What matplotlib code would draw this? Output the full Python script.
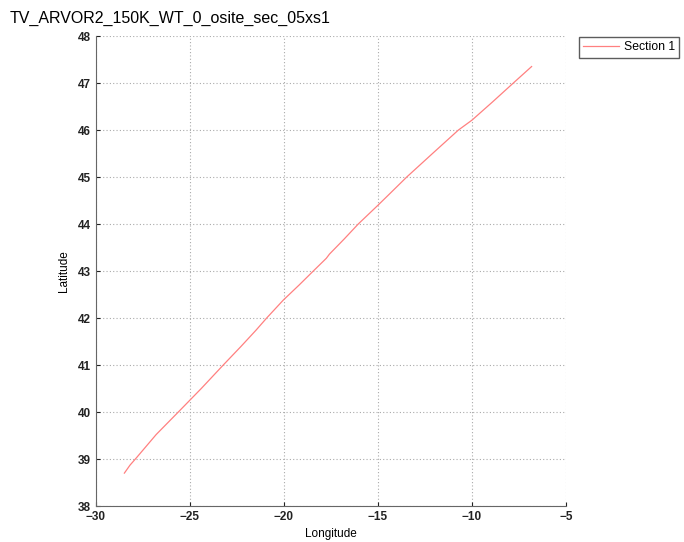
import matplotlib
matplotlib.use("Agg")
import matplotlib.pyplot as plt

# Track (longitude, latitude)
lon = [-28.49, -28.19, -27.84, -26.8, -25.62, -24.4, -23.23, -22.3, -21.49,
       -20.92, -20.04, -19.2, -18.44, -17.75, -17.58, -16.8, -16.05, -15.0,
       -14.36, -13.47, -12.1, -10.72, -10.0, -8.9, -7.80, -6.83]
lat = [38.70, 38.87, 39.03, 39.52, 40.0, 40.5, 41.0, 41.39, 41.74,
       42.0, 42.38, 42.7, 43.0, 43.27, 43.36, 43.68, 44.0, 44.40,
       44.65, 45.0, 45.5, 46.0, 46.21, 46.6, 47.0, 47.35]

series_label = "Section 1"
title = "TV_ARVOR2_150K_WT_0_osite_sec_05xs1"

plt.rcParams["font.family"] = ["Liberation Sans", "DejaVu Sans"]

fig = plt.figure(figsize=(6.84, 5.42), dpi=100)
ax = fig.add_axes([96 / 684, 36 / 542, 470 / 684, 470 / 542])

line, = ax.plot(lon, lat, color="#ff8080", linewidth=0.9, label=series_label)

ax.set_xlim(-30, -5)
ax.set_ylim(38, 48)
ax.set_xticks([-30, -25, -20, -15, -10, -5])
ax.set_xticklabels(["\u221230", "\u221225", "\u221220", "\u221215", "\u221210", "\u22125"])
ax.set_yticks(range(38, 49))
ax.grid(True, linestyle=(0, (1, 2)), color="#aaaaaa", linewidth=0.8)

for s in ["top", "right"]:
    ax.spines[s].set_visible(False)
for s in ["left", "bottom"]:
    ax.spines[s].set_color("#666666")
ax.tick_params(direction="in", length=3, labelsize=8.5, colors="#222222")
for t in ax.get_xticklabels() + ax.get_yticklabels():
    t.set_fontweight("bold")

ax.set_xlabel("Longitude", fontsize=8.5, labelpad=4)
ax.set_ylabel("Latitude", fontsize=8.5, labelpad=6)

fig.text(10 / 684, 1 - 18 / 542, title, fontsize=11.5, va="center", ha="left")

fig.legend(handles=[line], loc="upper left", bbox_to_anchor=(579 / 684, 1 - 37 / 542),
           fontsize=8.8, frameon=True, fancybox=False, edgecolor="#333333",
           handlelength=2.9, handletextpad=0.4, borderaxespad=0, borderpad=0.35)

fig.savefig("out.png", dpi=100)
